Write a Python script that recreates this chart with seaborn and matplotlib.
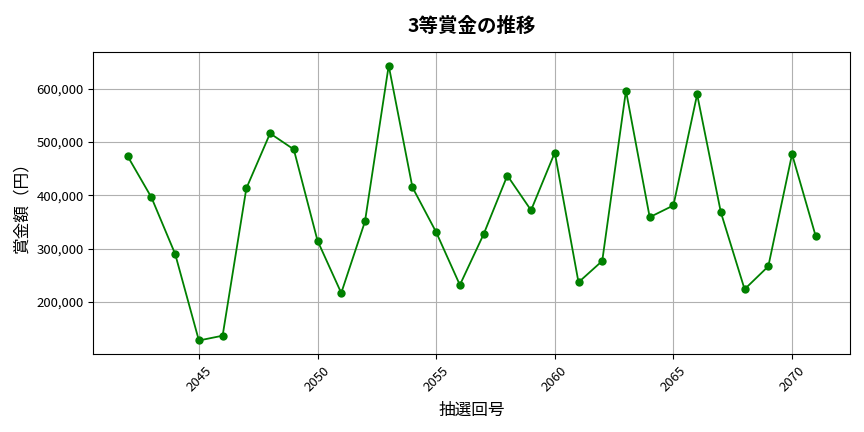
import matplotlib
matplotlib.use("Agg")
import matplotlib.pyplot as plt
import matplotlib.ticker as mticker
import seaborn as sns
import pandas as pd

draws = list(range(2042, 2072))
prizes = [473000, 396000, 290000, 128000, 137000, 413000, 516000, 486000,
          315000, 217000, 351000, 643000, 415000, 331000, 232000, 327000,
          437000, 372000, 480000, 237000, 277000, 596000, 359000, 381000,
          589000, 368000, 224000, 267000, 477000, 323000]

df = pd.DataFrame({"draw": draws, "prize": prizes})

plt.rcParams['font.family'] = ['Noto Sans CJK JP', 'DejaVu Sans']

fig, ax = plt.subplots(figsize=(8.64, 4.32), dpi=100)
sns.lineplot(data=df, x="draw", y="prize", ax=ax, color="green",
             marker="o", markersize=6, markeredgewidth=0, linewidth=1.3)

ax.set_title("3等賞金の推移", fontsize=14, fontweight="bold", pad=14)
ax.set_xlabel("抽選回号", fontsize=12, labelpad=6)
ax.set_ylabel("賞金額（円）", fontsize=12, labelpad=4)
ax.yaxis.set_major_formatter(mticker.FuncFormatter(lambda v, p: f"{int(v):,}"))
ax.tick_params(axis="x", rotation=45, labelsize=9.5)
ax.tick_params(axis="y", labelsize=9.5)
ax.grid(True, color="#b0b0b0", linewidth=0.8)

fig.subplots_adjust(left=0.108, right=0.984, top=0.88, bottom=0.18)
fig.savefig("out.png")
